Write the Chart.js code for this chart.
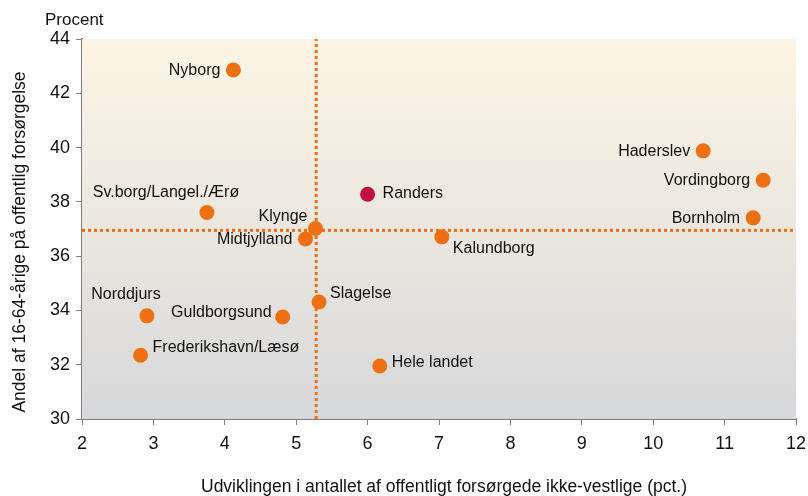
<!DOCTYPE html>
<html>
<head>
<meta charset="utf-8">
<script src="https://cdn.jsdelivr.net/npm/chart.js@4"></script>
<style>
  html, body { margin: 0; padding: 0; background: #fff; }
  #wrap { width: 808px; height: 496px; }
</style>
</head>
<body>
<div id="wrap"><canvas id="chart" width="808" height="496"></canvas></div>
<script>
// Data
const names = ['Nyborg', 'Haderslev', 'Vordingborg', 'Bornholm', 'Randers', 'Sv.borg/Langel./Ærø',
    'Klynge', 'Midtjylland', 'Kalundborg', 'Slagelse', 'Norddjurs', 'Guldborgsund',
    'Frederikshavn/Læsø', 'Hele landet'];
const xValues = [4.12, 10.70, 11.54, 11.40, 6.00, 3.75, 5.27, 5.13, 7.04, 5.32, 2.91, 4.81, 2.82, 6.17];
const yValues = [42.86, 39.88, 38.80, 37.41, 38.28, 37.61, 37.02, 36.63, 36.71, 34.31, 33.80, 33.76, 32.35, 31.95];
const highlight = 'Randers';
const refX = 5.28;   // vertical reference line
const refY = 36.95;  // horizontal reference line
const xTicks = [2, 3, 4, 5, 6, 7, 8, 9, 10, 11, 12];
const yTicks = [30, 32, 34, 36, 38, 40, 42, 44];

// label placement: [dx, dy, align]
const labelPos = {
    'Nyborg': [-13, 1, 'right'],
    'Haderslev': [-13, 1, 'right'],
    'Vordingborg': [-13, 0, 'right'],
    'Bornholm': [-13, 1, 'right'],
    'Randers': [15, -1, 'left'],
    'Sv.borg/Langel./Ærø': [-41, -20, 'center'],
    'Klynge': [-8, -12, 'right'],
    'Midtjylland': [-13, 1, 'right'],
    'Kalundborg': [11, 12, 'left'],
    'Slagelse': [11, -8, 'left'],
    'Norddjurs': [-21, -21, 'center'],
    'Guldborgsund': [-11, -4, 'right'],
    'Frederikshavn/Læsø': [12, -8, 'left'],
    'Hele landet': [12, -3, 'left']
};

const orange = '#ee7012';
const red = '#c1103b';
const font = '"Liberation Sans", Arial, sans-serif';

const points = names.map((n, i) => ({ x: xValues[i], y: yValues[i] }));

const bgPlugin = {
    id: 'bg',
    beforeDatasetsDraw(chart) {
        const { ctx, chartArea: a } = chart;
        const g = ctx.createLinearGradient(0, a.top, 0, a.bottom);
        g.addColorStop(0, '#fdf4e5');
        g.addColorStop(0.5, '#ebe7df');
        g.addColorStop(1, '#d7d8db');
        ctx.save();
        ctx.fillStyle = g;
        ctx.fillRect(a.left, a.top, a.right - a.left, a.bottom - a.top);
        ctx.restore();
    }
};

const textPlugin = {
    id: 'texts',
    afterDatasetsDraw(chart) {
        const ctx = chart.ctx;
        const meta = chart.getDatasetMeta(2);
        ctx.save();
        ctx.fillStyle = '#111';
        ctx.font = '16px ' + font;
        ctx.textBaseline = 'middle';
        meta.data.forEach((el, i) => {
            const p = labelPos[names[i]];
            ctx.textAlign = p[2];
            ctx.fillText(names[i], el.x + p[0], el.y + p[1]);
        });
        ctx.restore();
    },
    afterDraw(chart) {
        const ctx = chart.ctx;
        const a = chart.chartArea;
        ctx.save();
        ctx.fillStyle = '#111';
        ctx.font = '17px ' + font;
        ctx.textBaseline = 'middle';
        ctx.textAlign = 'left';
        ctx.fillText('Procent', 45, 20);
        ctx.font = '17.5px ' + font;
        ctx.textAlign = 'center';
        ctx.fillText('Udviklingen i antallet af offentligt forsørgede ikke-vestlige (pct.)', 444, 487);
        ctx.translate(20, 242);
        ctx.rotate(-Math.PI / 2);
        ctx.fillText('Andel af 16-64-årige på offentlig forsørgelse', 0, 0);
        ctx.restore();
    }
};

new Chart(document.getElementById('chart'), {
    type: 'scatter',
    data: {
        datasets: [
            {
                type: 'line',
                data: [{ x: refX, y: 30 }, { x: refX, y: 44 }],
                borderColor: orange,
                borderWidth: 3,
                borderDash: [3, 3],
                pointRadius: 0,
                order: 3
            },
            {
                type: 'line',
                data: [{ x: 2, y: refY }, { x: 12, y: refY }],
                borderColor: orange,
                borderWidth: 3,
                borderDash: [3, 3],
                pointRadius: 0,
                order: 2
            },
            {
                data: points,
                pointRadius: 7.5,
                pointHoverRadius: 7.5,
                pointBorderWidth: 0,
                pointBackgroundColor: names.map(n => n === highlight ? red : orange),
                order: 1
            }
        ]
    },
    options: {
        responsive: false,
        animation: false,
        layout: { padding: { top: 39, right: 0, left: 0, bottom: 0 } },
        plugins: {
            legend: { display: false },
            tooltip: { enabled: false }
        },
        scales: {
            x: {
                type: 'linear',
                min: 2,
                max: 12,
                afterBuildTicks: s => { s.ticks = xTicks.map(v => ({ value: v })); },
                afterFit: s => { s.height = 77; s.paddingRight = 12; },
                grid: { drawOnChartArea: false, color: '#7f7f7f', tickLength: 6, lineWidth: 1 },
                border: { color: '#7f7f7f', width: 2 },
                ticks: { color: '#111', font: { family: font, size: 18 }, padding: 8, maxRotation: 0 }
            },
            y: {
                type: 'linear',
                min: 30,
                max: 44,
                afterBuildTicks: s => { s.ticks = yTicks.map(v => ({ value: v })); },
                afterFit: s => { s.width = 82; },
                grid: { drawOnChartArea: false, color: '#7f7f7f', tickLength: 6, lineWidth: 1 },
                border: { color: '#7f7f7f', width: 2 },
                ticks: { color: '#111', font: { family: font, size: 18 }, padding: 6 }
            }
        }
    },
    plugins: [bgPlugin, textPlugin]
});
</script>
</body>
</html>
